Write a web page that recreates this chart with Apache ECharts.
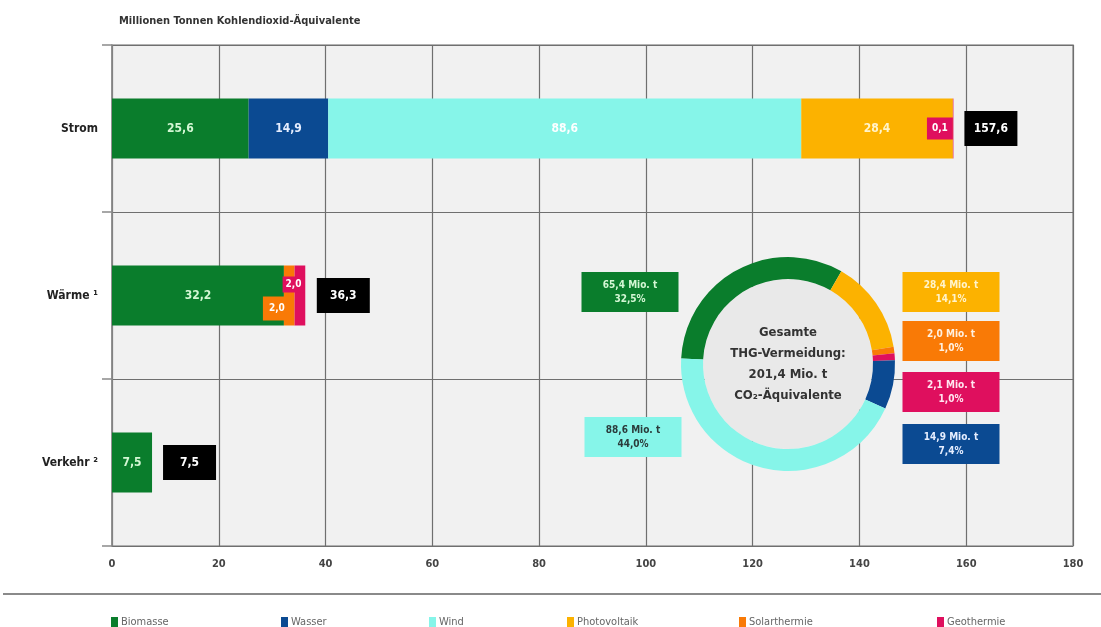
<!DOCTYPE html>
<html>
<head>
<meta charset="utf-8">
<script src="https://cdn.jsdelivr.net/npm/echarts@6/dist/echarts.min.js"></script>
<style>
  html, body { margin: 0; padding: 0; background: #fff; }
  #chart { width: 1101px; height: 627px; }
</style>
</head>
<body>
<div id="chart"></div>
<script>
// Sectors (bar rows, top to bottom)
const categories = ['Strom', 'Wärme ¹', 'Verkehr ²'];

// Avoided emissions per source and sector, Mio. t CO2-Äquivalente
const biomasse     = [25.6, 32.2, 7.5];
const wasser       = [14.9, null, null];
const wind         = [88.6, null, null];
const photovoltaik = [28.4, null, null];
const solarthermie = [null, 2.0, null];
const geothermie   = [0.1, 2.0, null];
const sectorTotals = [157.6, 36.3, 7.5];

// Totals per source (ring)
const ringNames  = ['Biomasse', 'Photovoltaik', 'Solarthermie', 'Geothermie', 'Wasser', 'Wind'];
const ringValues = [65.4, 28.4, 2.0, 2.1, 14.9, 88.6];
const grandTotal = 201.4;

// Axis ticks
const xTicks = [0, 20, 40, 60, 80, 100, 120, 140, 160, 180];

const COLORS = {
  Biomasse: '#0a7d2c',
  Wasser: '#0b4a92',
  Wind: '#86f5e9',
  Photovoltaik: '#fcb200',
  Solarthermie: '#f97a06',
  Geothermie: '#df0f5e'
};
const TEXT_ON = {
  Biomasse: '#d4f7d4',
  Wasser: '#e6eeff',
  Wind: '#ffffff',
  Photovoltaik: '#fff4cc',
  Solarthermie: '#fff0e0',
  Geothermie: '#ffe6f0'
};
const FONT = '"Liberation Sans Narrow", "DejaVu Sans Condensed", "Noto Sans", sans-serif';
const fmt = v => v.toFixed(1).replace('.', ',');

function barSeries(name, values, overrides) {
  return {
    name: name,
    type: 'bar',
    stack: 'sum',
    barWidth: 60,
    itemStyle: { color: COLORS[name] },
    label: {
      show: true,
      position: 'inside',
      color: TEXT_ON[name],
      fontFamily: FONT,
      fontWeight: 'bold',
      fontSize: 12,
      formatter: p => (p.value == null ? '' : fmt(p.value))
    },
    emphasis: { disabled: true },
    data: values.map((v, i) => {
      if (v == null) return null;
      const o = overrides && overrides[i];
      return o ? Object.assign({ value: v }, o) : v;
    })
  };
}

const smallBox = (bg) => ({
  show: true,
  color: '#fff',
  backgroundColor: bg,
  fontFamily: FONT,
  fontWeight: 'bold',
  fontSize: 10,
  align: 'left',
  verticalAlign: 'top'
});

const series = [
  barSeries('Biomasse', biomasse),
  barSeries('Wasser', wasser),
  barSeries('Wind', wind),
  barSeries('Photovoltaik', photovoltaik),
  barSeries('Solarthermie', solarthermie, {
    1: { label: Object.assign(smallBox(COLORS.Solarthermie), { position: [-21, 31], padding: [7, 6] }) }
  }),
  barSeries('Geothermie', geothermie, {
    0: { label: Object.assign(smallBox(COLORS.Geothermie), { position: 'left', distance: 0, padding: [6, 5], align: 'right', verticalAlign: 'middle' }) },
    1: { label: Object.assign(smallBox(COLORS.Geothermie), { position: [-12, 11], padding: [3, 3] }) }
  }),
  {
    name: 'Summe',
    type: 'scatter',
    symbol: 'rect',
    symbolSize: 0,
    silent: true,
    z: 5,
    itemStyle: { opacity: 1, color: '#000' },
    label: {
      show: true,
      position: 'right',
      distance: 11,
      backgroundColor: '#000',
      padding: [10, 10],
      formatter: p => '{t|' + fmt(p.value[0]) + '}',
      rich: {
        t: {
          color: '#fff',
          fontFamily: FONT,
          fontWeight: 'bold',
          fontSize: 12,
          lineHeight: 15,
          width: 33,
          align: 'center'
        }
      }
    },
    data: sectorTotals.map((v, i) => [v, categories[i]])
  },
  {
    name: 'Quellen',
    type: 'pie',
    center: [788, 364],
    radius: [85, 107],
    startAngle: 177,
    clockwise: true,
    avoidLabelOverlap: false,
    silent: true,
    z: 10,
    label: {
      show: true,
      position: 'outside',
      fontFamily: FONT,
      fontWeight: 'bold',
      fontSize: 10,
      lineHeight: 14,
      width: 77,
      align: 'center',
      padding: [6, 10],
      formatter: p => fmt(p.value) + ' Mio. t\n' + fmt(p.value / grandTotal * 100) + '%'
    },
    labelLine: { show: false },
    labelLayout: p => {
      const boxes = [
        [630, 292], // Biomasse
        [951, 292], // Photovoltaik
        [951, 341], // Solarthermie
        [951, 392], // Geothermie
        [951, 444], // Wasser
        [633, 437]  // Wind
      ];
      const b = boxes[p.dataIndex];
      return { x: b[0], y: b[1], align: 'center', verticalAlign: 'middle' };
    },
    data: ringNames.map((n, i) => ({
      name: n,
      value: ringValues[i],
      itemStyle: { color: COLORS[n] },
      label: {
        backgroundColor: COLORS[n],
        color: n === 'Wind' ? '#2b3b3b' : TEXT_ON[n]
      }
    }))
  }
];

const legendLefts = [106, 276, 424, 562, 734, 932];
const legendNames = ['Biomasse', 'Wasser', 'Wind', 'Photovoltaik', 'Solarthermie', 'Geothermie'];
const legends = legendNames.map((n, i) => ({
  data: [n],
  left: legendLefts[i],
  top: 612,
  icon: 'rect',
  itemWidth: 7,
  itemHeight: 11,
  itemGap: 0,
  textStyle: { color: '#666', fontFamily: FONT, fontSize: 11, padding: [0, 0, 0, -2] },
  selectedMode: false
}));

const chart = echarts.init(document.getElementById('chart'), null, { renderer: 'canvas' });
chart.setOption({
  animation: false,
  backgroundColor: '#fff',
  title: {
    text: 'Millionen Tonnen Kohlendioxid-Äquivalente',
    left: 114,
    top: 11,
    textStyle: { fontFamily: FONT, fontSize: 11, fontWeight: 'bold', color: '#333' }
  },
  grid: {
    left: 112,
    right: 28,
    top: 45,
    bottom: 81,
    show: true,
    backgroundColor: '#f1f1f1',
    borderColor: '#9a9a9a',
    borderWidth: 1.5
  },
  xAxis: {
    type: 'value',
    min: xTicks[0],
    max: xTicks[xTicks.length - 1],
    interval: xTicks[1] - xTicks[0],
    axisLine: { show: false },
    axisTick: { show: false },
    axisLabel: {
      margin: 13,
      color: '#444',
      fontFamily: FONT,
      fontWeight: 'bold',
      fontSize: 11
    },
    splitLine: { show: true, lineStyle: { color: '#6f6f6f', width: 1.2 } }
  },
  yAxis: {
    type: 'category',
    inverse: true,
    data: categories,
    axisLine: { show: true, lineStyle: { color: '#8a8a8a', width: 1.5 } },
    axisTick: { show: true, length: 10, lineStyle: { color: '#8a8a8a', width: 1.5 } },
    axisLabel: {
      margin: 14,
      color: '#222',
      fontFamily: FONT,
      fontWeight: 'bold',
      fontSize: 12
    },
    splitLine: { show: true, lineStyle: { color: '#6f6f6f', width: 1.2 } }
  },
  legend: legends,
  graphic: [
    {
      type: 'circle',
      shape: { cx: 788, cy: 364, r: 85 },
      style: { fill: '#e9e9e9' },
      z: 9,
      silent: true
    },
    {
      type: 'text',
      x: 788,
      y: 364,
      z: 11,
      silent: true,
      style: {
        text: 'Gesamte\nTHG-Vermeidung:\n' + fmt(grandTotal) + ' Mio. t\nCO₂-Äquivalente',
        align: 'center',
        verticalAlign: 'middle',
        fill: '#333',
        font: 'bold 13px ' + FONT,
        lineHeight: 21
      }
    },
    {
      type: 'line',
      shape: { x1: 3, y1: 594, x2: 1101, y2: 594 },
      style: { stroke: '#8a8a8a', lineWidth: 2 },
      silent: true
    }
  ],
  series: series
});
</script>
</body>
</html>
